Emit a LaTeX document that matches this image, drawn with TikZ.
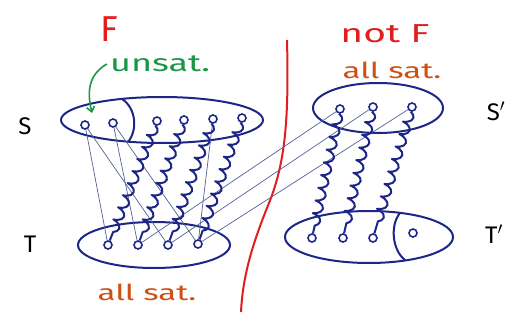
\documentclass[tikz,border=0pt]{standalone}
\usepackage{fontspec}
\setmainfont{Fira Sans}
\newfontfamily\hand[FakeStretch=1.5]{Fira Sans}
\usetikzlibrary{decorations.pathmorphing,arrows.meta}
\definecolor{ink}{RGB}{28,38,135}
\definecolor{thinink}{RGB}{85,95,150}
\definecolor{redink}{RGB}{225,30,30}
\definecolor{orangeink}{RGB}{205,80,20}
\definecolor{greenink}{RGB}{25,150,70}
\begin{document}
\begin{tikzpicture}[x=1pt,y=-1pt,
  dot/.style={circle,draw=ink,line width=1.6pt,inner sep=0pt,minimum size=8pt},
  spring/.style={draw=ink,line width=2pt,line join=round,decorate,decoration={coil,aspect=0.45,segment length=13pt,amplitude=4.5pt}},
  thinline/.style={draw=thinink,line width=0.7pt},
  blob/.style={draw=ink,line width=2pt},
  lbl/.style={inner sep=0pt,text=black},
  big/.style={font=\fontsize{24}{24}\selectfont},
  ]
\useasboundingbox (0,0) rectangle (525,324);
% red divider
\draw[redink,line width=2pt] (287,40) .. controls (289,120) and (285,160) .. (271,198) .. controls (256,235) and (243,270) .. (241,312);
% sets
\draw[blob] (162,120) ellipse [x radius=101pt, y radius=23pt];
\draw[blob] (122,99) .. controls (136,108) and (138,130) .. (128,142);
\draw[blob] (154,245) ellipse [x radius=76pt, y radius=23pt];
\draw[blob] (378,108) ellipse [x radius=65pt, y radius=25pt];
\draw[blob] (369,237) ellipse [x radius=84pt, y radius=26pt];
\draw[blob] (400,213) .. controls (390,225) and (392,250) .. (405,260);
% vertices
\node[dot] (s1) at (85,125) {};
\node[dot] (s2) at (113,123) {};
\node[dot] (s3) at (157,121) {};
\node[dot] (s4) at (184,120) {};
\node[dot] (s5) at (213,119) {};
\node[dot] (s6) at (242,118) {};
\node[dot] (t1) at (108,245) {};
\node[dot] (t2) at (138,245) {};
\node[dot] (t3) at (168,245) {};
\node[dot] (t4) at (198,244) {};
\node[dot] (sp1) at (340,109) {};
\node[dot] (sp2) at (373,107) {};
\node[dot] (sp3) at (412,107) {};
\node[dot] (tp1) at (312,238) {};
\node[dot] (tp2) at (343,238) {};
\node[dot] (tp3) at (373,238) {};
\node[dot] (tp4) at (413,233) {};
% thin edges
\draw[thinline] (s1) -- (t1);
\draw[thinline] (s1) -- (t3);
\draw[thinline] (s2) -- (t2);
\draw[thinline] (s2) -- (t4);
\draw[thinline] (s5) -- (t4);
\draw[thinline] (sp1) -- (t2);
\draw[thinline] (sp2) -- (t3);
\draw[thinline] (sp3) -- (t4);
% springs (matching)
\draw[spring] (s3) -- (t1);
\draw[spring] (s4) -- (t2);
\draw[spring] (s5) -- (t3);
\draw[spring] (s6) -- (t4);
\draw[spring] (sp1) -- (tp1);
\draw[spring] (sp2) -- (tp2);
\draw[spring] (sp3) -- (tp3);
% labels
\node[lbl,text=redink,font=\fontsize{36}{36}\selectfont] (F) at (109,29) {F};
\node[lbl,text=redink,font=\hand\fontsize{26}{26}\selectfont] (notF) at (385,34) {not F};
\node[lbl,text=orangeink,font=\hand\fontsize{22}{22}\selectfont] (allsatR) at (392,70) {all sat.};
\node[lbl,text=orangeink,font=\hand\fontsize{22}{22}\selectfont] (allsatL) at (147,292) {all sat.};
\node[lbl,text=greenink,font=\hand\fontsize{24}{24}\selectfont] (unsat) at (160,64) {unsat.};
\coordinate (tip) at (92,113);
\draw[greenink,line width=1.6pt,-{Straight Barb[length=5pt,width=8pt]}] ([xshift=-3pt]unsat.west) .. controls (86,76) and (88,96) .. (tip);
\node[lbl,big] (Slbl) at (25,126) {S};
\node[lbl,big] (Tlbl) at (30,244) {T};
\node[lbl,big] (Splbl) at (496,111) {S$'$};
\node[lbl,big] (Tplbl) at (494,234) {T$'$};
\end{tikzpicture}
\end{document}
